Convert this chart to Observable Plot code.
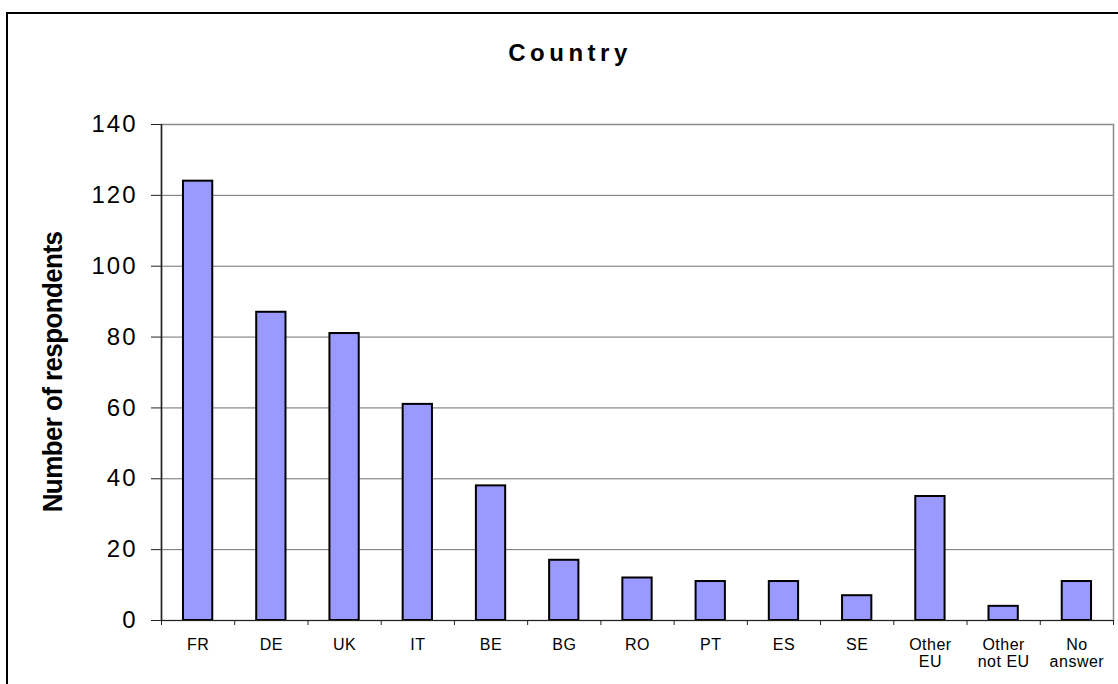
<!DOCTYPE html>
<html>
<head>
<meta charset="utf-8">
<script src="https://cdn.jsdelivr.net/npm/d3@7"></script>
<script src="https://cdn.jsdelivr.net/npm/@observablehq/plot@0.6"></script>
<style>
  html, body { margin: 0; padding: 0; background: #fff; overflow: hidden; }
  #page { position: relative; width: 1118px; height: 684px; overflow: hidden; font-family: "Liberation Sans", Arial, sans-serif; }
  #border { position: absolute; left: 6px; top: 12px; width: 1300px; height: 900px; border: 2px solid #000; box-sizing: border-box; }
  #title { position: absolute; left: 2px; width: 1136px; top: 41px; text-align: center; font-size: 24px; line-height: 24px; font-weight: bold; letter-spacing: 4.5px; color: #000; }
  #ylabel { position: absolute; left: 52px; top: 372px; white-space: nowrap; font-size: 26px; line-height: 26px; font-weight: bold; letter-spacing: -0.6px; color: #000;
            transform: translate(-50%, -50%) rotate(-90deg) scale(1, 1.07); }
  #chart { position: absolute; left: 0; top: 0; }
</style>
</head>
<body>
<div id="page">
  <div id="border"></div>
  <div id="chart"></div>
  <div id="title">Country</div>
  <div id="ylabel">Number of respondents</div>
</div>
<script>
const categories = ["FR", "DE", "UK", "IT", "BE", "BG", "RO", "PT", "ES", "SE", "Other\nEU", "Other\nnot EU", "No\nanswer"];
const values = [124, 87, 81, 61, 38, 17, 12, 11, 11, 7, 35, 4, 11];
const yTicks = [0, 20, 40, 60, 80, 100, 120, 140];

const data = categories.map((c, i) => ({category: c, index: i, value: values[i]}));
const boundaries = d3.range(categories.length + 1);
const centers = categories.map((c, i) => i + 0.5);

const chart = Plot.plot({
  width: 1118,
  height: 684,
  marginLeft: 161,
  marginRight: 5,
  marginTop: 124,
  marginBottom: 64,
  x: {domain: [0, categories.length], axis: null},
  y: {domain: [0, 140], axis: null},
  style: {fontFamily: "'Liberation Sans', Arial, sans-serif", background: "transparent", color: "#000"},
  marks: [
    Plot.gridY(yTicks, {stroke: "#707070", strokeOpacity: 1, strokeWidth: 1}),
    Plot.frame({stroke: "#8a8a8a", strokeWidth: 1.5}),
    Plot.rectY(data, {x1: d => d.index + 0.3, x2: d => d.index + 0.7, y: "value", fill: "#9999FF", stroke: "#000", strokeWidth: 2}),
    Plot.ruleX([0], {stroke: "#222", strokeWidth: 1.5}),
    Plot.ruleY([0], {stroke: "#222", strokeWidth: 1.2}),
    Plot.axisY(yTicks, {tickSize: 10, tickPadding: 14, fontSize: 24, stroke: "#222", label: null}),
    Plot.axisX(boundaries, {tickSize: 5, tickFormat: () => "", stroke: "#222", label: null}),
    Plot.axisX(centers, {tickSize: 0, tickPadding: 18, fontSize: 16, lineHeight: 1.05, tickFormat: v => categories[Math.floor(v)], label: null})
  ]
});

d3.select(chart).selectAll('g[aria-label="y-axis tick label"] text').style("letter-spacing", "2px");
d3.select(chart).selectAll('g[aria-label="x-axis tick label"] text').style("letter-spacing", "0.5px");

document.getElementById("chart").appendChild(chart);
</script>
</body>
</html>
